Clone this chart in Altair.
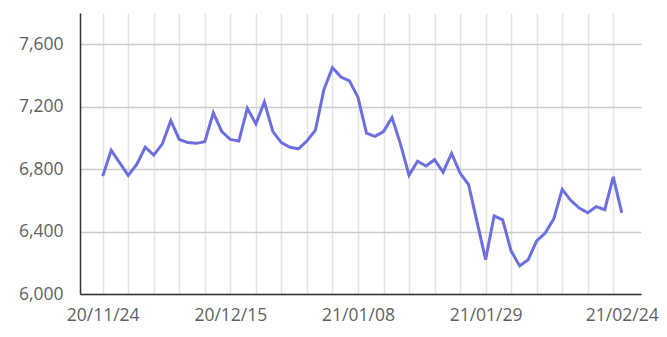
import json
import altair as alt
import pandas as pd

dates = [
    "20/11/24", "20/11/25", "20/11/26", "20/11/27", "20/11/30",
    "20/12/01", "20/12/02", "20/12/03", "20/12/04", "20/12/07", "20/12/08",
    "20/12/09", "20/12/10", "20/12/11", "20/12/14", "20/12/15", "20/12/16",
    "20/12/17", "20/12/18", "20/12/21", "20/12/22", "20/12/23", "20/12/24",
    "20/12/28", "20/12/29", "20/12/30",
    "21/01/04", "21/01/05", "21/01/06", "21/01/07", "21/01/08", "21/01/11",
    "21/01/12", "21/01/13", "21/01/14", "21/01/15", "21/01/18", "21/01/19",
    "21/01/20", "21/01/21", "21/01/22", "21/01/25", "21/01/26", "21/01/27",
    "21/01/28", "21/01/29",
    "21/02/01", "21/02/02", "21/02/03", "21/02/04", "21/02/05", "21/02/08",
    "21/02/09", "21/02/10", "21/02/15", "21/02/16", "21/02/17", "21/02/18",
    "21/02/19", "21/02/22", "21/02/23", "21/02/24",
]

values = [
    6755, 6920, 6840, 6760, 6830, 6940, 6890, 6960, 7110, 6990,
    6970, 6965, 6975, 7160, 7040, 6990, 6980, 7190, 7090, 7230,
    7040, 6970, 6940, 6930, 6980, 7050, 7310, 7450, 7390, 7365,
    7260, 7030, 7010, 7040, 7130, 6960, 6760, 6850, 6820, 6860,
    6780, 6900, 6775, 6700, 6460, 6220, 6500, 6475, 6275, 6180,
    6220, 6340, 6390, 6480, 6670, 6600, 6550, 6520, 6560, 6540,
    6750, 6520,
]

label_idx = [0, 15, 30, 45, 61]
grid_idx = list(range(0, 61, 3))
y_ticks = [6000, 6400, 6800, 7200, 7600]

df = pd.DataFrame({"i": list(range(len(values))), "date": dates, "value": values})

lab_arr = json.dumps([dates[k] if k in label_idx else "" for k in range(len(dates))])

FONT = "Open Sans"

chart = alt.Chart(df).mark_line(color="#6e6edf", strokeWidth=3).encode(
    x=alt.X(
        "i:Q",
        scale=alt.Scale(domain=[-2.667, 63.26], nice=False, zero=False),
        axis=alt.Axis(
            title=None,
            values=grid_idx + [61],
            labelExpr=f"{lab_arr}[datum.value]",
            labelOverlap=False,
            labelFlush=False,
            labelBound=False,
            grid=True,
            gridColor="#e3e3e3",
            gridWidth=1.5,
            gridOpacity={"condition": {"test": "datum.value === 61", "value": 0}, "value": 1},
            ticks=False,
            domainColor="#333333",
            domainWidth=1.5,
            labelColor="#5f5f5f",
            labelFont=FONT,
            labelFontSize=17.5,
            labelPadding=12,
        ),
    ),
    y=alt.Y(
        "value:Q",
        scale=alt.Scale(domain=[6000, 7800], nice=False, zero=False),
        axis=alt.Axis(
            title=None,
            values=y_ticks,
            format=",.0f",
            grid=True,
            gridColor="#cccccc",
            gridWidth=1.5,
            ticks=False,
            domainColor="#333333",
            domainWidth=1.5,
            labelColor="#5f5f5f",
            labelFont=FONT,
            labelFontSize=17.5,
            labelPadding=17,
        ),
    ),
).properties(
    width=561,
    height=281,
    padding={"left": 80, "top": 13, "right": 26, "bottom": 43},
    autosize="none",
    background="white",
).configure_view(stroke=None)

chart.save("out.html", embed_options={"renderer": "svg", "actions": False})
